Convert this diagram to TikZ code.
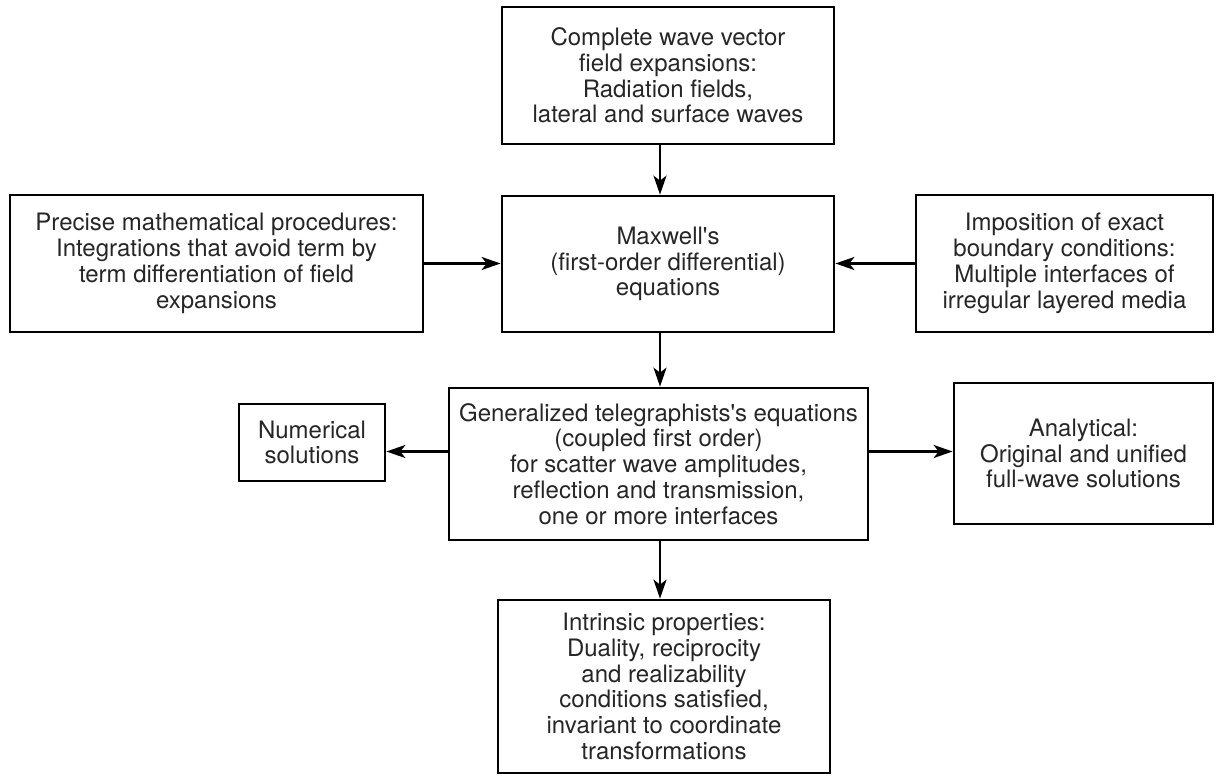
\documentclass[tikz,border=0pt]{standalone}
\usepackage{fontspec}
\setmainfont{TeX Gyre Heros}
\usetikzlibrary{arrows.meta}
\tikzset{
  box/.style={draw=black, line width=2.7pt, inner sep=0pt, align=center,
    font=\fontsize{24}{25.8}\selectfont, text=black!85},
  arr/.style={line width=2.3pt, -{Stealth[length=19pt,width=13pt,inset=5pt]}}
}
\begin{document}
\begin{tikzpicture}[x=1pt,y=-1pt]
\useasboundingbox (0,0) rectangle (1216,776);
\node[box, minimum width=332pt, minimum height=137pt] (top) at (668,75.5)
  {Complete wave vector\\field expansions:\\Radiation fields,\\lateral and surface waves};
\node[box, minimum width=332pt, minimum height=136pt] (maxwell) at (668,264)
  {Maxwell\textquotesingle s\\(first-order differential)\\equations};
\node[box, minimum width=413pt, minimum height=137pt] (left) at (216.5,263.5)
  {Precise mathematical procedures:\\Integrations that avoid term by\\term differentiation of field\\expansions};
\node[box, minimum width=297pt, minimum height=137pt] (right) at (1064.5,263.5)
  {Imposition of exact\\boundary conditions:\\Multiple interfaces of\\irregular layered media};
\node[box, minimum width=419pt, minimum height=152pt] (gen) at (658.5,464)
  {Generalized telegraphists\textquotesingle s equations\\(coupled first order)\\for scatter wave amplitudes,\\reflection and transmission,\\one or more interfaces};
\node[box, minimum width=146pt, minimum height=77pt] (num) at (312,442.5)
  {Numerical\\solutions};
\node[box, minimum width=259pt, minimum height=141pt] (ana) at (1083.5,453.5)
  {Analytical:\\Original and unified\\full-wave solutions};
\node[box, minimum width=332pt, minimum height=173pt] (bot) at (664,686.5)
  {Intrinsic properties:\\Duality, reciprocity\\and realizability\\conditions satisfied,\\invariant to coordinate\\transformations};
\coordinate (ax) at (660,0);
\coordinate (ay) at (0,451.5);
\draw[arr] (top.south -| ax) -- (maxwell.north -| ax);
\draw[arr] (left.east) -- (left.east -| maxwell.west);
\draw[arr] (right.west) -- (right.west -| maxwell.east);
\draw[arr] (maxwell.south -| ax) -- (gen.north -| ax);
\draw[arr] (gen.west |- ay) -- (num.east |- ay);
\draw[arr] (gen.east |- ay) -- (ana.west |- ay);
\draw[arr] (gen.south -| ax) -- (bot.north -| ax);
\end{tikzpicture}
\end{document}
